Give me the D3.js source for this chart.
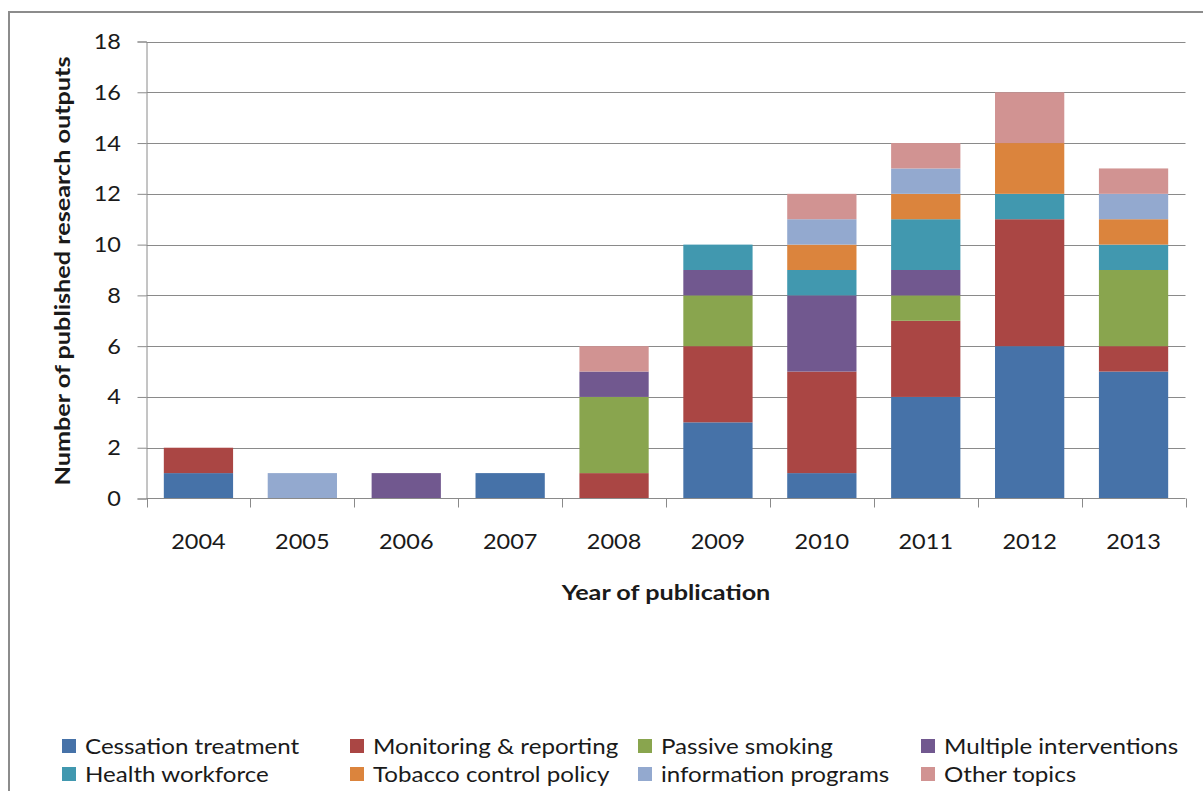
<!DOCTYPE html>
<html>
<head>
<meta charset="utf-8">
<script src="https://cdn.jsdelivr.net/npm/d3@7"></script>
<style>
  html, body { margin: 0; padding: 0; background: #fff; }
  svg { display: block; }
  text { font-family: Lato, "Open Sans", sans-serif; fill: #1a1a1a; }
</style>
</head>
<body>
<svg id="chart" width="1203" height="791"></svg>
<script>
// Publication years (x categories)
const years = ["2004", "2005", "2006", "2007", "2008", "2009", "2010", "2011", "2012", "2013"];

// Topic series, stacked bottom to top
const topics = [
  "Cessation treatment", "Monitoring & reporting", "Passive smoking", "Multiple interventions",
  "Health workforce", "Tobacco control policy", "information programs", "Other topics"
];

// Outputs per year for each topic
const cessation   = [1, 0, 0, 1, 0, 3, 1, 4, 6, 5];
const monitoring  = [1, 0, 0, 0, 1, 3, 4, 3, 5, 1];
const passive     = [0, 0, 0, 0, 3, 2, 0, 1, 0, 3];
const multiple    = [0, 0, 1, 0, 1, 1, 3, 1, 0, 0];
const workforce   = [0, 0, 0, 0, 0, 1, 1, 2, 1, 1];
const policy      = [0, 0, 0, 0, 0, 0, 1, 1, 2, 1];
const information = [0, 1, 0, 0, 0, 0, 1, 1, 0, 1];
const other       = [0, 0, 0, 0, 1, 0, 1, 1, 2, 1];

const yTicks = [0, 2, 4, 6, 8, 10, 12, 14, 16, 18];

const colors = ["#4672a8", "#aa4644", "#89a54e", "#71588f", "#4198af", "#db843d", "#93a9cf", "#d19392"];

const seriesValues = [cessation, monitoring, passive, multiple, workforce, policy, information, other];
const table = years.map((yr, i) => {
  const row = { year: yr };
  topics.forEach((t, k) => { row[t] = seriesValues[k][i]; });
  return row;
});

const svg = d3.select("#chart");

// Draws text widened horizontally (the chart's typeface is broad)
function wideText(sel, x, y, sx, anchor) {
  return sel.append("text")
    .attr("transform", `translate(${x},${y}) scale(${sx},1)`)
    .attr("text-anchor", anchor || "start");
}

// Outer chart frame (runs off the right and bottom edges)
svg.append("rect")
  .attr("x", 9).attr("y", 12)
  .attr("width", 1220).attr("height", 800)
  .attr("fill", "none").attr("stroke", "#8c8c8c").attr("stroke-width", 2);

const plot = { left: 146.5, right: 1185.5, top: 41.5, bottom: 498.5 };

const x = d3.scaleBand().domain(years).range([plot.left, plot.right]).paddingInner(1/3).paddingOuter(1/6);
const band = d3.scaleBand().domain(years).range([plot.left, plot.right]);
const y = d3.scaleLinear().domain([0, 18]).range([plot.bottom, plot.top]);

// Horizontal gridlines
svg.append("g").selectAll("line").data(yTicks.filter(v => v > 0)).join("line")
  .attr("x1", plot.left).attr("x2", plot.right)
  .attr("y1", d => Math.round(y(d)) + 0.5).attr("y2", d => Math.round(y(d)) + 0.5)
  .attr("stroke", "#8a8a8a").attr("stroke-width", 1);

// Stacked bars
const stack = d3.stack().keys(topics)(table);
svg.append("g").selectAll("g").data(stack).join("g")
  .attr("fill", (d, i) => colors[i])
  .selectAll("rect").data(d => d.filter(s => s[1] > s[0])).join("rect")
  .attr("x", d => x(d.data.year))
  .attr("width", x.bandwidth())
  .attr("y", d => y(d[1]))
  .attr("height", d => y(d[0]) - y(d[1]));

// Y axis line and ticks
const yAxis = svg.append("g")
  .attr("transform", `translate(${plot.left},0)`)
  .call(d3.axisLeft(y).tickValues(yTicks).tickSize(9).tickFormat(""));
yAxis.select(".domain").attr("stroke", "#8a8a8a");
yAxis.selectAll(".tick line").attr("stroke", "#8a8a8a");
// Y tick labels
const yLab = svg.append("g");
yTicks.forEach(v => {
  wideText(yLab, 121, y(v) + 7.5, 1.12, "end").attr("font-size", 21).text(d3.format("d")(v));
});

// X axis: ticks sit at category boundaries
const xAxisG = svg.append("g").attr("transform", `translate(0,${plot.bottom})`);
xAxisG.append("line").attr("x1", plot.left).attr("x2", plot.right)
  .attr("stroke", "#8a8a8a");
const bounds = years.map(yr => band(yr)).concat([plot.right]);
xAxisG.selectAll("line.tk").data(bounds).join("line").attr("class", "tk")
  .attr("x1", d => Math.round(d) + 0.5).attr("x2", d => Math.round(d) + 0.5)
  .attr("y1", 0).attr("y2", 9).attr("stroke", "#8a8a8a");
years.forEach(yr => {
  wideText(xAxisG, x(yr) + x.bandwidth() / 2, 50, 1.12, "middle").attr("font-size", 21).text(yr);
});

// Axis titles
svg.append("text")
  .attr("transform", `translate(70,271) rotate(-90) scale(1.2,1)`)
  .attr("text-anchor", "middle")
  .attr("font-size", 21).attr("font-weight", "bold")
  .text("Number of published research outputs");

wideText(svg, 666, 600, 1.2, "middle")
  .attr("font-size", 21).attr("font-weight", "bold")
  .text("Year of publication");

// Legend: four columns, two rows
const legendCols = [62, 350, 638, 921];
const legendRows = [746, 774];
const legend = svg.append("g").selectAll("g").data(topics).join("g")
  .attr("transform", (d, i) => `translate(${legendCols[i % 4]},${legendRows[Math.floor(i / 4)]})`);
legend.append("rect")
  .attr("x", 0).attr("y", -7).attr("width", 14).attr("height", 14)
  .attr("fill", (d, i) => colors[i]);
legend.each(function (d) {
  wideText(d3.select(this), 23, 7.5, 1.15).attr("font-size", 21).text(d);
});
</script>
</body>
</html>
